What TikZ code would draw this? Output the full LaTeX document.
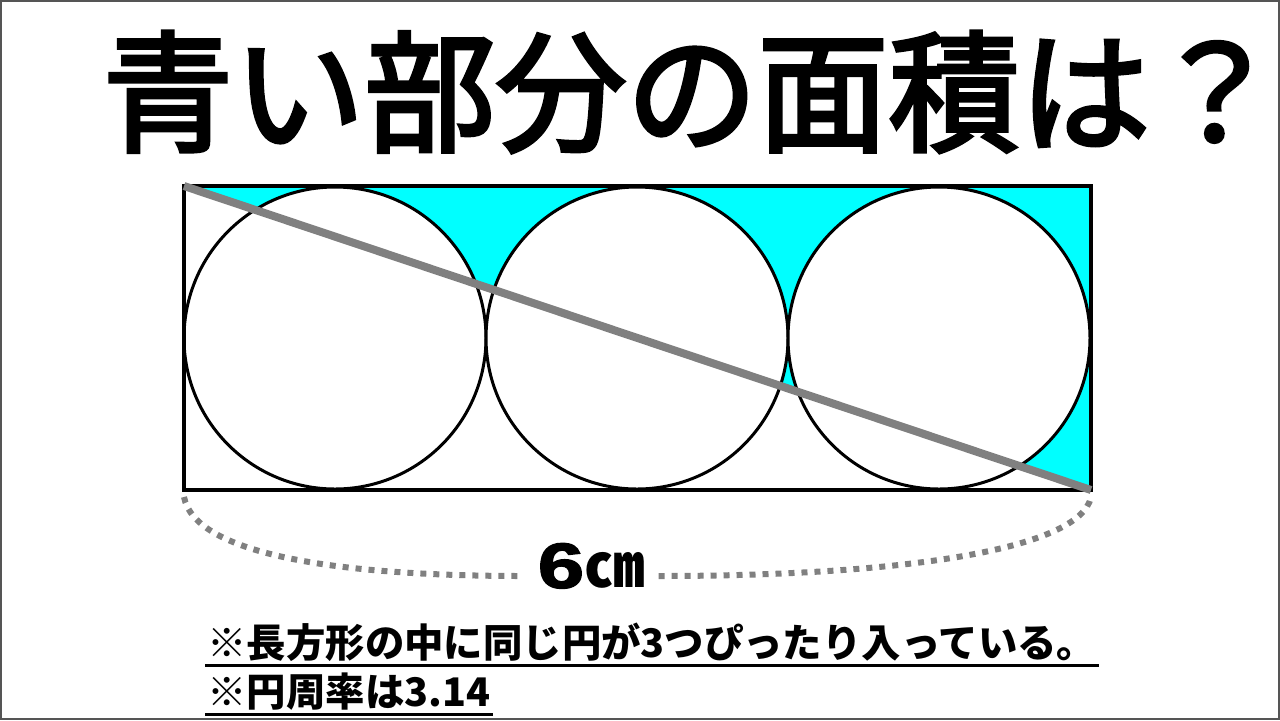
\documentclass[tikz,border=0pt]{standalone}
\usepackage{fontspec}
\usetikzlibrary{calc}
\newfontfamily\jp{Noto Sans CJK JP}
\newfontfamily\jptitle{Noto Sans CJK JP}[FakeBold=3]
\newfontfamily\numf{Liberation Sans}[FakeBold=2]
\definecolor{aqua}{HTML}{00FFFF}
\definecolor{linegray}{HTML}{808080}
\definecolor{framegray}{HTML}{555555}
\begin{document}
\begin{tikzpicture}[x=0.5pt,y=-0.5pt,
  outline/.style={draw=black,line width=2pt},
  ring/.style={draw=black,fill=white,line width=1.5pt},
  diag/.style={draw=linegray,line width=4pt},
  dotline/.style={draw=linegray,line width=3pt,dash pattern=on 3pt off 3.5pt},
  titletext/.style={font=\jptitle\fontsize{65.5}{72}\selectfont,inner sep=0},
  notetext/.style={font=\jp\bfseries\fontsize{19.7}{22}\selectfont,inner sep=0,anchor=base west},
  uline/.style={draw=black,line width=1.5pt}]
\useasboundingbox (0,0) rectangle (1280,720);
\fill[white] (0,0) rectangle (1280,720);
\draw[framegray,line width=1pt] (1,1) rectangle (1279,719);
% geometry
\coordinate (tl) at (184,186);
\coordinate (tr) at (1091,186);
\coordinate (br) at (1091,490);
\coordinate (bl) at (184,490);
\fill[aqua] (tl) -- (tr) -- (br) -- cycle;
\path[ring] (335,338) circle (151);
\path[ring] (637,338) circle (151);
\path[ring] (939,338) circle (151);
\draw[outline] (tl) rectangle (br);
\draw[diag] (tl) -- (br);
% title
\node[titletext] (title) at (692,92) {青い部分の面積は？};
% length label
\node[inner sep=0] (len) at (591,566) {\scalebox{1.3}[1]{\numf\bfseries\fontsize{32}{34}\selectfont 6}\jp\bfseries\fontsize{30}{34}\selectfont ㎝};
\coordinate (dl) at (184,497);
\coordinate (dr) at (1091,497);
\draw[dotline] (dl) .. controls (195,555) and (340,576) .. ($(len.west)+(-14,10)$);
\draw[dotline] ($(len.east)+(14,10)$) .. controls (900,576) and (1080,550) .. (dr);
% notes
\node[notetext] (n1) at (207,657) {※長方形の中に同じ円が3つぴったり入っている。};
\node[notetext] (n2) at (207,706) {※円周率は3.14};
\draw[uline] ($(n1.base west)+(-2,8)$) -- ($(n1.base east)+(2,8)$);
\draw[uline] ($(n2.base west)+(-2,8)$) -- ($(n2.base east)+(2,8)$);
\end{tikzpicture}
\end{document}
